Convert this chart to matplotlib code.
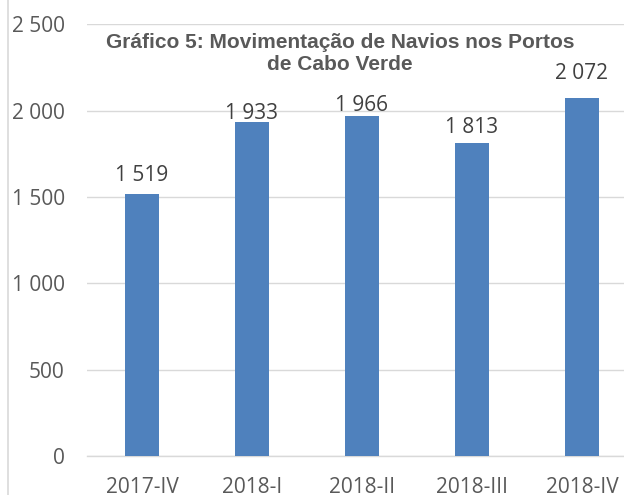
import matplotlib.pyplot as plt
import numpy as np
from matplotlib.lines import Line2D
from matplotlib.ticker import FuncFormatter

# ------------------------------------------------------------
# Data
# ------------------------------------------------------------

quarters = ["2017-IV", "2018-I", "2018-II", "2018-III", "2018-IV"]
ships = [1519, 1933, 1966, 1813, 2072]
y_ticks = [0, 500, 1000, 1500, 2000, 2500]

title_lines = ["Gráfico 5: Movimentação de Navios nos Portos", "de Cabo Verde"]

# label offsets above each bar (points), as placed in the original
label_offsets = [13, 6.5, 8, 11, 18]

BAR_COLOR = "#4F81BD"
GRID_COLOR = "#D9D9D9"
TICK_COLOR = "#595959"
LABEL_COLOR = "#404040"


def thousands(v, pos=None):
    return f"{int(v):,}".replace(",", " ")


# ------------------------------------------------------------
# Draw
# ------------------------------------------------------------

fig = plt.figure(figsize=(6.24, 4.95), dpi=100)
ax = fig.add_axes([0.1394, 0.0778, 0.8814, 0.8737])

x = np.arange(len(quarters))
ax.bar(x, ships, width=0.31, color=BAR_COLOR, zorder=3)

for xi, v, off in zip(x, ships, label_offsets):
    ax.annotate(
        thousands(v),
        (xi, v),
        xytext=(0, off),
        textcoords="offset points",
        ha="center",
        va="center",
        fontsize=15,
        family="Open Sans",
        color=LABEL_COLOR,
        zorder=4,
    )

ax.set_xlim(-0.5, len(quarters) - 0.5)
ax.set_ylim(0, 2500)
ax.set_yticks(y_ticks)
ax.yaxis.set_major_formatter(FuncFormatter(thousands))
ax.set_xticks(x)
ax.set_xticklabels(quarters)

for lab in ax.get_xticklabels() + ax.get_yticklabels():
    lab.set_family("Open Sans")
    lab.set_fontsize(15)
    lab.set_color(TICK_COLOR)

ax.tick_params(axis="y", length=0, pad=16)
ax.tick_params(axis="x", length=0, pad=15)

ax.grid(axis="y", color=GRID_COLOR, linewidth=1.0, zorder=0)
for side in ["top", "right", "left"]:
    ax.spines[side].set_visible(False)
ax.spines["bottom"].set_color(GRID_COLOR)
ax.spines["bottom"].set_linewidth(1.0)

# two-line title, drawn line by line
for line, y_px in zip(title_lines, [43, 64]):
    fig.text(
        340 / 624,
        1 - y_px / 495,
        line,
        ha="center",
        va="center",
        fontsize=15,
        fontweight="bold",
        family="Liberation Sans",
        color=TICK_COLOR,
    )

# chart frame edge on the left
fig.add_artist(Line2D([7.5 / 624, 7.5 / 624], [0, 1], color=GRID_COLOR,
                      linewidth=1.2, transform=fig.transFigure))

fig.savefig("out.png", dpi=100)
plt.close(fig)
